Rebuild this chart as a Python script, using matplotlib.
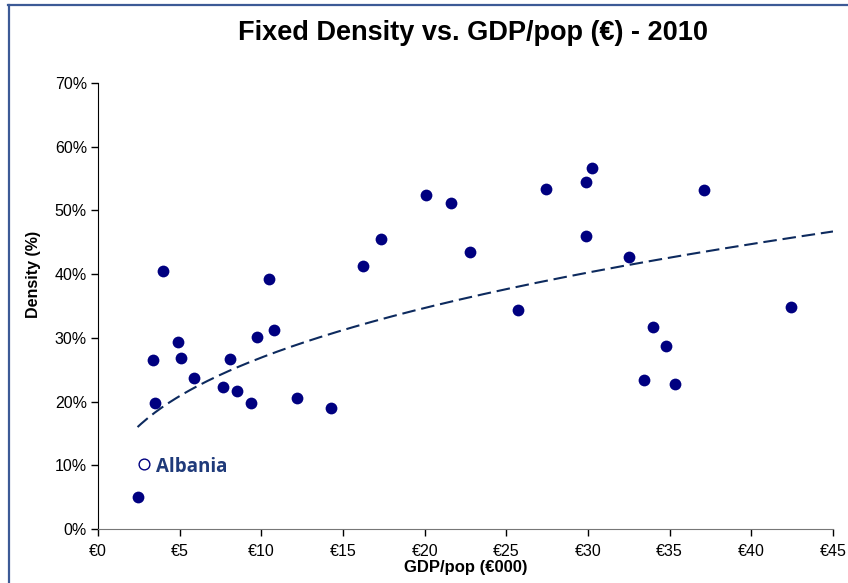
import numpy as np
import matplotlib
matplotlib.use("Agg")
import matplotlib.pyplot as plt
from matplotlib.lines import Line2D

plt.rcParams['font.family'] = ['Liberation Sans', 'DejaVu Sans']

# GDP per head (EUR 000) and fixed density (%) for each country, 2010
gdp = [2.45, 3.36, 3.48, 3.97, 4.89, 5.07, 5.87, 7.64, 8.07, 8.5, 9.35, 9.72,
       10.45, 10.76, 12.16, 14.24, 16.2, 17.3, 20.1, 21.6, 22.8, 25.7, 27.4,
       29.85, 30.25, 29.85, 32.5, 33.4, 34.0, 34.8, 35.3, 37.1, 42.4]
density = [5.0, 26.5, 19.8, 40.5, 29.4, 26.8, 23.7, 22.3, 26.7, 21.7, 19.8, 30.1,
           39.2, 31.2, 20.6, 19.0, 41.3, 45.5, 52.4, 51.1, 43.4, 34.4, 53.3,
           54.5, 56.7, 46.0, 42.7, 23.4, 31.7, 28.7, 22.8, 53.2, 34.8]

# highlighted country
albania_gdp = 2.81
albania_density = 10.2

# power trend line: start and end of the dashed curve
trend_x = [2.42, 45.0]
trend_y = [16.0, 46.7]

x_ticks = [0, 5, 10, 15, 20, 25, 30, 35, 40, 45]
y_ticks = [0, 10, 20, 30, 40, 50, 60, 70]

navy = '#000080'

fig = plt.figure(figsize=(8.48, 5.83), dpi=100)
ax = fig.add_axes([0.1156, 0.0926, 0.8667, 0.765])

ax.scatter(gdp, density, s=72, color=navy, zorder=3, linewidths=0)
ax.scatter([albania_gdp], [albania_density], s=60, facecolors='white',
           edgecolors=navy, linewidths=1.0, zorder=3)
ax.text(albania_gdp + 0.75, albania_density - 0.4, 'Albania', family='Open Sans',
        fontsize=13.5, fontweight='bold', color='#1f3a7a', va='center')

# power fit through the two read ends: y = a * x^b
b = np.log(trend_y[1] / trend_y[0]) / np.log(trend_x[1] / trend_x[0])
a = trend_y[0] / trend_x[0] ** b
xs = np.linspace(trend_x[0], trend_x[1], 200)
ax.plot(xs, a * xs ** b, color='#0d2a5e', lw=1.5, dashes=(6.5, 2.8), zorder=2)

ax.set_xlim(0, 45)
ax.set_ylim(0, 70)
ax.set_xticks(x_ticks)
ax.set_xticklabels(['€%d' % t for t in x_ticks])
ax.set_yticks(y_ticks)
ax.set_yticklabels(['%d%%' % t for t in y_ticks])
ax.tick_params(direction='out', length=5, width=1, colors='#000000',
               labelsize=11.5, pad=3)
ax.tick_params(axis='x', pad=6)
for s in ['top', 'right']:
    ax.spines[s].set_visible(False)
ax.spines['left'].set_color('#000000')
ax.spines['bottom'].set_color('#777777')

ax.set_xlabel('GDP/pop (€000)', fontsize=12, fontweight='bold', labelpad=0.5)
ax.set_ylabel('Density (%)', fontsize=11.5, fontweight='bold')
ax.yaxis.set_label_coords(-0.077, 0.57)

fig.text(0.558, 0.943, 'Fixed Density vs. GDP/pop (€) - 2010', ha='center',
         va='center', fontsize=19.5, fontweight='bold')

# outer frame on the left and top
fig.add_artist(Line2D([0.0105, 0.0105], [0.0, 0.991], transform=fig.transFigure,
                      color='#3c5a96', lw=1.6))
fig.add_artist(Line2D([0.0095, 1.0], [0.991, 0.991], transform=fig.transFigure,
                      color='#3c5a96', lw=1.6))

fig.savefig('out.png', dpi=100)
